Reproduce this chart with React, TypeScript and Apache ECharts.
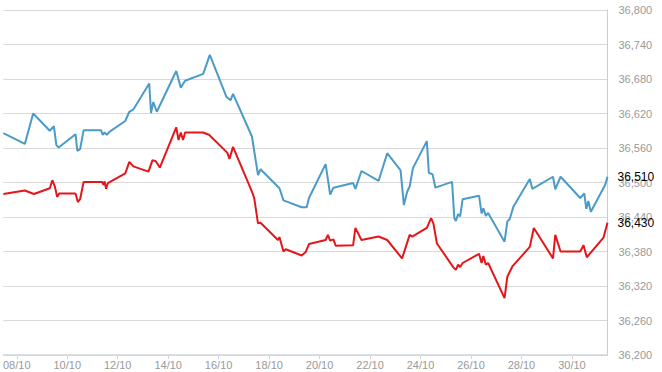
import React, { useEffect, useRef } from "react";
import * as echarts from "echarts";

// x = day of October (fractional), y = index value
const blueDays = [
  7.47, 8.32, 8.65, 9.31, 9.47, 9.57, 9.66, 10.33, 10.40, 10.51, 10.65, 11.34, 11.41, 11.48, 11.57, 11.67,
  12.30, 12.46, 12.62, 13.25, 13.32, 13.41, 13.55, 14.32, 14.50, 14.67, 15.39, 15.65, 16.31, 16.47, 16.57,
  17.32, 17.56, 17.66, 18.41, 18.57, 19.29, 19.49, 19.58, 20.24, 20.42, 20.55, 21.33, 21.42, 21.66, 22.34,
  22.68, 23.21, 23.34, 23.47, 23.57, 23.70, 24.25, 24.33, 24.48, 24.59, 25.25, 25.34, 25.40, 25.49, 25.57,
  25.67, 26.32, 26.42, 26.49, 26.59, 26.68, 27.33, 27.44, 27.54, 27.68, 28.33, 28.43, 29.25, 29.34, 29.55,
  30.33, 30.49, 30.57, 30.65, 30.75, 31.32, 31.41,
];
const blueValues = [
  36586, 36567, 36620, 36590, 36598, 36565, 36561, 36584, 36555, 36558, 36591, 36591, 36583, 36587, 36583, 36588,
  36607, 36623, 36627, 36672, 36621, 36640, 36623, 36694, 36665, 36677, 36689, 36722, 36649, 36643, 36654,
  36580, 36513, 36523, 36490, 36469, 36457, 36457, 36473, 36532, 36479, 36491, 36499, 36489, 36520, 36503,
  36551, 36521, 36461, 36484, 36493, 36525, 36572, 36517, 36514, 36491, 36501, 36438, 36433, 36445, 36441,
  36471, 36477, 36446, 36455, 36442, 36447, 36397, 36432, 36437, 36458, 36506, 36489, 36510, 36488, 36510,
  36473, 36481, 36454, 36468, 36449, 36496, 36510,
];

const redDays = [
  7.47, 8.32, 8.68, 9.31, 9.41, 9.51, 9.60, 9.68, 10.33, 10.42, 10.51, 10.65, 11.38, 11.44, 11.48, 11.54,
  11.61, 12.30, 12.46, 12.62, 13.22, 13.38, 13.51, 13.67, 14.32, 14.41, 14.50, 14.59, 14.67, 15.38, 15.62,
  16.34, 16.43, 16.57, 17.32, 17.41, 17.56, 17.66, 18.35, 18.41, 18.57, 18.66, 19.29, 19.45, 19.58, 20.24,
  20.33, 20.42, 20.55, 20.64, 21.33, 21.42, 21.66, 22.34, 22.68, 23.27, 23.57, 23.67, 24.25, 24.42, 24.51,
  24.65, 25.31, 25.40, 25.49, 25.57, 25.67, 26.32, 26.42, 26.49, 26.59, 26.68, 27.33, 27.44, 27.64, 28.33,
  28.49, 29.25, 29.34, 29.55, 30.33, 30.46, 30.59, 31.25, 31.41,
];
const redValues = [
  36480, 36486, 36480, 36490, 36504, 36493, 36475, 36481, 36481, 36466, 36471, 36501, 36501, 36496, 36502, 36489,
  36499, 36516, 36536, 36528, 36519, 36539, 36537, 36526, 36596, 36574, 36587, 36574, 36587, 36587, 36583,
  36552, 36541, 36562, 36484, 36473, 36429, 36430, 36400, 36405, 36380, 36384, 36373, 36379, 36393, 36400,
  36409, 36399, 36401, 36390, 36391, 36421, 36400, 36406, 36400, 36368, 36409, 36406, 36421, 36438, 36429,
  36394, 36352, 36348, 36357, 36353, 36360, 36376, 36360, 36372, 36357, 36360, 36299, 36336, 36354, 36388,
  36421, 36368, 36409, 36380, 36380, 36391, 36370, 36404, 36430,
];

const xTickDays = [8, 10, 12, 14, 16, 18, 20, 22, 24, 26, 28, 30];
const yTicks = [36200, 36260, 36320, 36380, 36440, 36500, 36560, 36620, 36680, 36740, 36800];

const fmtNum = (v: number) => {
  const s = String(Math.round(v));
  return s.replace(/\B(?=(\d{3})+(?!\d))/g, ",");
};

export default function App() {
  const ref = useRef<HTMLDivElement>(null);
  useEffect(() => {
    if (!ref.current) return;
    const chart = echarts.init(ref.current, undefined, { renderer: "svg" });
    const blueData = blueDays.map((d, i) => [d, blueValues[i]]);
    const redData = redDays.map((d, i) => [d, redValues[i]]);
    const endLabel = {
      show: true,
      formatter: (p: any) => fmtNum(p.value[1]),
      color: "#000",
      fontSize: 12,
      fontFamily: "Liberation Sans",
      distance: 10,
    };
    chart.setOption({
      animation: false,
      backgroundColor: "#fff",
      grid: { left: 0, top: 10, right: 54.5, bottom: 17, containLabel: false },
      xAxis: {
        type: "value",
        min: 7.47,
        max: 31.41,
        axisLine: { show: true, lineStyle: { color: "#cfd5dc", width: 1.5 } },
        axisTick: { show: true, length: 4, customValues: xTickDays, lineStyle: { color: "#cfd5dc" } },
        axisLabel: {
          customValues: xTickDays,
          formatter: (v: number) => String(v).padStart(2, "0") + "/10",
          color: "#999",
          fontSize: 11,
          fontFamily: "Liberation Sans",
          margin: 4,
        },
        splitLine: { show: false },
      },
      yAxis: {
        type: "value",
        position: "right",
        min: 36200,
        max: 36800,
        axisLine: { show: true, lineStyle: { color: "#cccccc", width: 1 } },
        axisTick: { show: false, customValues: yTicks },
        axisLabel: {
          customValues: yTicks,
          formatter: (v: number) => fmtNum(v),
          color: "#999",
          fontSize: 11,
          fontFamily: "Liberation Sans",
          margin: 11,
        },
        splitLine: { show: true, lineStyle: { color: "#d9d9d9", width: 1 } },
      },
      series: [
        {
          type: "line",
          data: blueData,
          showSymbol: false,
          symbol: "none",
          lineStyle: { color: "#4b9bc9", width: 2 },
          itemStyle: { color: "#4b9bc9" },
          endLabel,
        },
        {
          type: "line",
          data: redData,
          showSymbol: false,
          symbol: "none",
          lineStyle: { color: "#e3171b", width: 2 },
          itemStyle: { color: "#e3171b" },
          endLabel,
        },
      ],
    });
    return () => chart.dispose();
  }, []);
  return (
    <div
      ref={ref}
      style={{ position: "fixed", left: 0, top: 0, width: 662, height: 372 }}
    />
  );
}
